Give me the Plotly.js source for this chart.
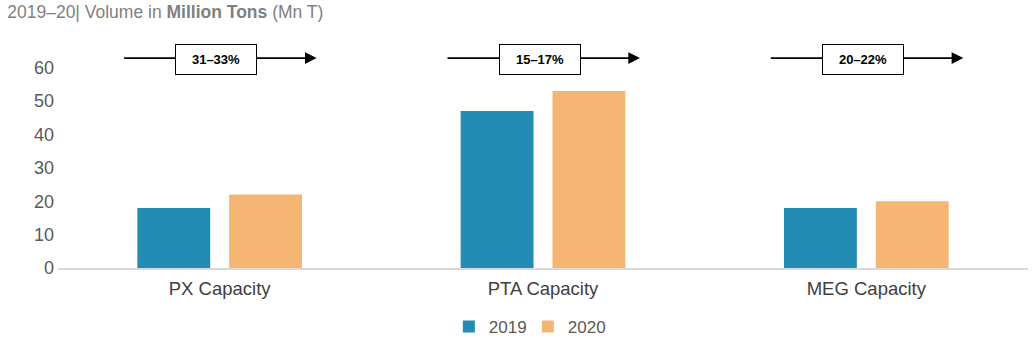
<!DOCTYPE html>
<html>
<head>
<meta charset="utf-8">
<script src="https://cdn.plot.ly/plotly-3.0.1.min.js"></script>
<style>html,body{margin:0;padding:0;background:#fff;}#chart{width:1035px;height:342px;}</style>
</head>
<body>
<div id="chart"></div>
<script>
const categories = ["PX Capacity", "PTA Capacity", "MEG Capacity"];
const values2019 = [18, 47, 18];
const values2020 = [22, 53, 20];
const growthLabels = ["31–33%", "15–17%", "20–22%"];
const yTicks = [0, 10, 20, 30, 40, 50, 60];

const font = "Liberation Sans, Arial, sans-serif";
const arrowY = 62.9;

const traces = [
  {type: "bar", name: "2019", x: categories, y: values2019, marker: {color: "#238CB3"}, hoverinfo: "x+y"},
  {type: "bar", name: "2020", x: categories, y: values2020, marker: {color: "#F5B673"}, hoverinfo: "x+y"}
];

const annotations = [];
categories.forEach((c, i) => {
  annotations.push({
    x: i + 0.3, y: arrowY, ax: i - 0.3, ay: arrowY,
    xref: "x", yref: "y", axref: "x", ayref: "y",
    text: "", showarrow: true, arrowhead: 2, arrowsize: 1.3, arrowwidth: 1.8, arrowcolor: "#000"
  });
  annotations.push({
    x: i - 0.01, y: arrowY - 0.4, xref: "x", yref: "y",
    text: "<b>" + growthLabels[i] + "</b>", showarrow: false,
    font: {family: font, size: 13, color: "#000"},
    bgcolor: "#fff", bordercolor: "#000", borderwidth: 1,
    width: 78, height: 27
  });
});

const layout = {
  width: 1035, height: 342,
  margin: {l: 58, r: 7, t: 41, b: 74, autoexpand: false},
  paper_bgcolor: "#fff", plot_bgcolor: "#fff",
  font: {family: font, color: "#595959"},
  title: {
    text: "2019–20| Volume in <b>Million Tons</b> (Mn T)",
    font: {family: font, size: 17.5, color: "#7f7f7f"},
    x: 0.007, xanchor: "left", xref: "container", y: 0.965, yanchor: "middle", yref: "container"
  },
  barmode: "group",
  bargap: 0.432,
  bargroupgap: 0.2065,
  xaxis: {
    type: "category",
    showgrid: false, zeroline: false,
    showline: true, linecolor: "#d9d9d9", linewidth: 2,
    ticks: "", tickfont: {family: font, size: 18.5, color: "#404040"},
    ticklabelstandoff: 3,
    range: [-0.5, 2.5], fixedrange: true
  },
  yaxis: {
    range: [0, 68],
    tickvals: yTicks,
    showgrid: false, zeroline: false, showline: false,
    ticks: "", tickfont: {family: font, size: 18, color: "#595959"},
    ticklabelstandoff: 3,
    fixedrange: true
  },
  showlegend: true,
  legend: {
    orientation: "h", x: 0.51, xanchor: "center", xref: "container",
    y: 0.044, yanchor: "middle", yref: "container",
    font: {family: font, size: 17, color: "#595959"},
    itemwidth: 30, entrywidth: 34, traceorder: "normal"
  },
  annotations: annotations
};

Plotly.newPlot("chart", traces, layout, {displayModeBar: false, staticPlot: true});
</script>
</body>
</html>
